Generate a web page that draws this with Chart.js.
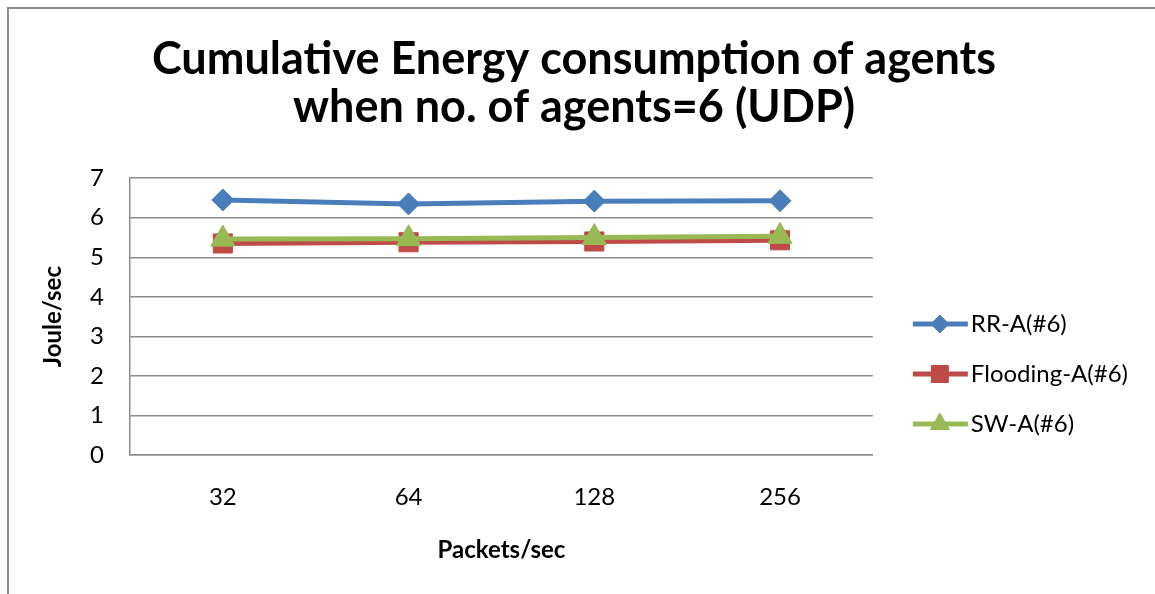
<!DOCTYPE html>
<html>
<head>
<meta charset="utf-8">
<script src="https://cdn.jsdelivr.net/npm/chart.js@4.4.0/dist/chart.umd.min.js"></script>
<style>
  html, body { margin: 0; padding: 0; background: #fff; overflow: hidden; }
  #frame { position: absolute; left: 7px; top: 7px; width: 1200px; height: 650px;
           border: 2px solid #8c8c8c; box-sizing: border-box; }
  #wrap { position: absolute; left: 0; top: 0; width: 1155px; height: 594px; }
</style>
</head>
<body>
<div id="frame"></div>
<div id="wrap"><canvas id="chart" width="1155" height="594"></canvas></div>
<script>
// Packet rates on the x axis
const packetRates = ['32', '64', '128', '256'];
// Cumulative energy (Joule/sec) per scheme
const rrValues = [6.45, 6.35, 6.42, 6.43];
const floodingValues = [5.35, 5.38, 5.40, 5.43];
const swValues = [5.46, 5.47, 5.50, 5.53];
const seriesNames = ['RR-A(#6)', 'Flooding-A(#6)', 'SW-A(#6)'];
const titleLines = ['Cumulative Energy consumption of agents', 'when no. of agents=6 (UDP)'];
const yTickValues = [0, 1, 2, 3, 4, 5, 6, 7];

const FONT = 'Lato, "Open Sans", sans-serif';
const BLUE = '#4a7ebb';
const RED = '#be4b48';
const GREEN = '#98b954';
const GRID = '#8c8c8c';

// Legend glyph: a short line segment with the series marker in its middle
function legendGlyph(color, style, r) {
  const cv = document.createElement('canvas');
  cv.width = 90; cv.height = 30;
  const g = cv.getContext('2d');
  g.strokeStyle = color; g.lineWidth = 5;
  g.beginPath(); g.moveTo(29, 15); g.lineTo(84, 15); g.stroke();
  g.fillStyle = color; g.strokeStyle = color; g.lineWidth = 1;
  Chart.helpers.drawPoint(g, { pointStyle: style, radius: r, borderWidth: 1, rotation: 0 }, 56, 15);
  return cv;
}
const glyphs = [
  legendGlyph(BLUE, 'rectRot', 9),
  legendGlyph(RED, 'rect', 12),
  legendGlyph(GREEN, 'triangle', 11)
];

// later series are painted on top of earlier ones
function series(label, values, color, style, radius, order) {
  return {
    label, data: values, order,
    borderColor: color, backgroundColor: color,
    borderWidth: 5, tension: 0,
    pointStyle: style, pointRadius: radius, pointHoverRadius: radius,
    pointBorderWidth: 1, pointBackgroundColor: color, pointBorderColor: color
  };
}

new Chart(document.getElementById('chart'), {
  type: 'line',
  data: {
    labels: packetRates,
    datasets: [
      series(seriesNames[0], rrValues, BLUE, 'rectRot', 11, 2),
      series(seriesNames[1], floodingValues, RED, 'rect', 13.5, 1),
      series(seriesNames[2], swValues, GREEN, 'triangle', 14, 0)
    ]
  },
  options: {
    responsive: false,
    animation: false,
    layout: { padding: { left: 10, right: 17, top: 0, bottom: 24 } },
    plugins: {
      title: {
        display: true, text: titleLines, color: '#000',
        font: { family: FONT, size: 45, weight: 'bold', lineHeight: 1.08 },
        padding: { top: 35, bottom: 46 }
      },
      legend: {
        position: 'right',
        // empty legend title used as top spacing so the entries sit lower
        title: { display: true, text: '', font: { size: 10, lineHeight: 1.2 }, padding: { top: 166, bottom: 0 } },
        labels: {
          usePointStyle: true, pointStyleWidth: 60, padding: 26,
          color: '#000', font: { family: FONT, size: 24 },
          generateLabels(chart) {
            const items = Chart.defaults.plugins.legend.labels.generateLabels(chart);
            items.sort((a, b) => a.datasetIndex - b.datasetIndex);
            items.forEach(it => { it.pointStyle = glyphs[it.datasetIndex]; it.fontColor = '#000'; });
            return items;
          }
        }
      },
      tooltip: { enabled: false }
    },
    scales: {
      x: {
        offset: true,
        grid: { display: false, drawTicks: false },
        border: { color: GRID, width: 1.5 },
        ticks: { padding: 27.6, color: '#000', font: { family: FONT, size: 24 } },
        title: {
          display: true, text: 'Packets/sec', color: '#000',
          font: { family: FONT, size: 24, weight: 'bold' },
          padding: { top: 0, bottom: 5.6 }
        },
        afterFit(s) { s.height = 115; }
      },
      y: {
        min: 0, max: 7,
        afterBuildTicks(s) { s.ticks = yTickValues.map(v => ({ value: v })); },
        grid: { color: GRID, lineWidth: 1.5, drawTicks: false },
        border: { color: GRID, width: 1.5 },
        ticks: { padding: 26, color: '#000', font: { family: FONT, size: 24 } },
        title: {
          display: true, text: 'Joule/sec', color: '#000',
          font: { family: FONT, size: 24, weight: 'bold' },
          padding: { top: 28.6, bottom: 0 }
        },
        afterFit(s) { s.width = 120; }
      }
    }
  }
});
</script>
</body>
</html>
